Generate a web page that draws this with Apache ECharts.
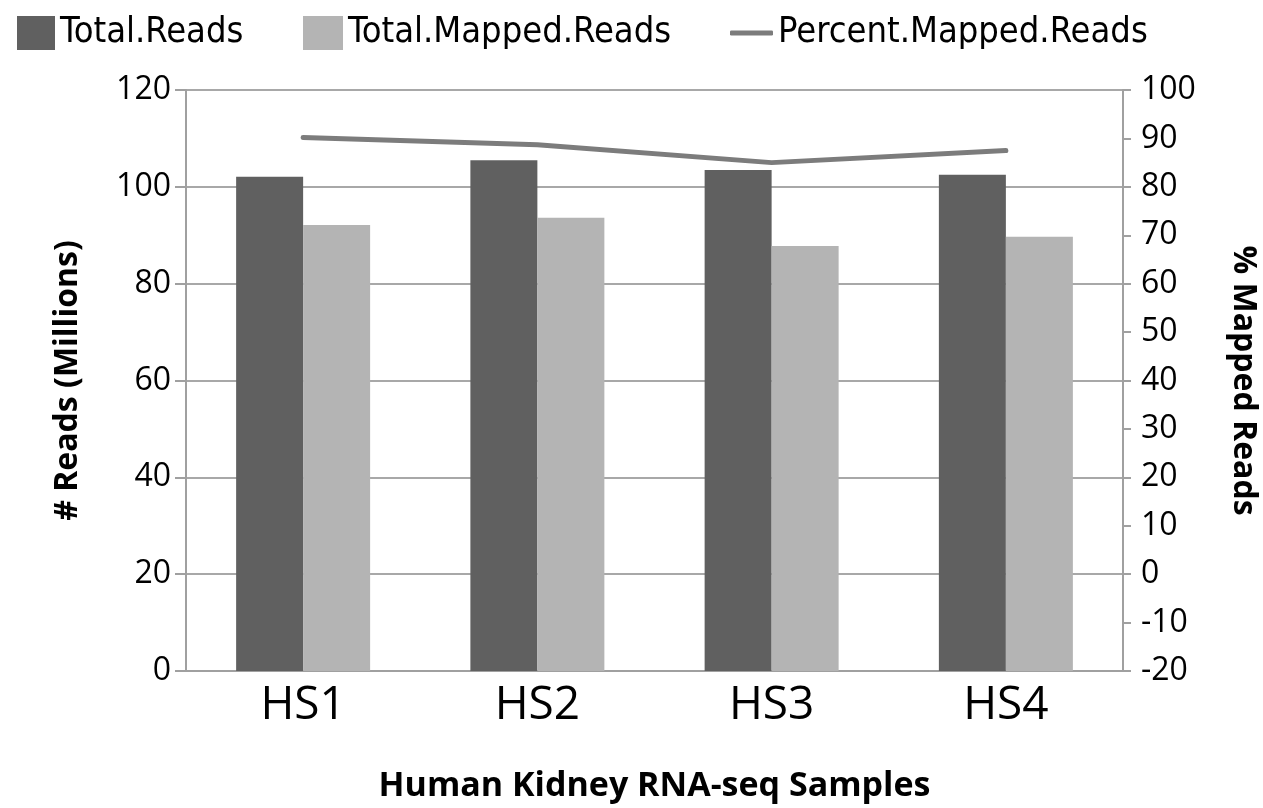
<!DOCTYPE html>
<html>
<head>
<meta charset="utf-8">
<script src="https://cdn.jsdelivr.net/npm/echarts@6/dist/echarts.min.js"></script>
<style>
  html, body { margin: 0; padding: 0; background: #fff; }
  #chart { width: 1263px; height: 808px; }
</style>
</head>
<body>
<div id="chart"></div>
<script>
// data
const samples = ['HS1', 'HS2', 'HS3', 'HS4']
const totalReads = [102.1, 105.5, 103.5, 102.5]
const totalMapped = [92.1, 93.6, 87.8, 89.7]
const percentMapped = [90.2, 88.7, 85.0, 87.5]

const font = "'Open Sans', sans-serif"
const narrow = "'Liberation Sans Narrow', 'DejaVu Sans Condensed', sans-serif"

const legendText = { color: '#000', fontSize: 36, fontFamily: narrow }

const myChart = echarts.init(document.getElementById('chart'))
const option = {
    animation: false,
    legend: [
        { left: 12, top: 10, itemWidth: 38, itemHeight: 34, textStyle: legendText,
          data: [{ name: 'Total.Reads', icon: 'rect' }] },
        { left: 298, top: 10, itemWidth: 40, itemHeight: 34, textStyle: legendText,
          data: [{ name: 'Total.Mapped.Reads', icon: 'rect' }] },
        { left: 725, top: 10, itemWidth: 43, itemHeight: 5, textStyle: legendText,
          itemStyle: { color: '#7c7c7c' },
          data: [{ name: 'Percent.Mapped.Reads', icon: 'roundRect' }] }
    ],
    grid: { left: 186, right: 140, top: 90, bottom: 137, outerBoundsMode: 'none' },
    xAxis: {
        type: 'category',
        data: samples,
        name: 'Human Kidney RNA-seq Samples',
        nameLocation: 'middle',
        nameGap: 98,
        nameTextStyle: { color: '#000', fontSize: 34, fontWeight: 'bold', fontFamily: font },
        axisLine: { lineStyle: { color: '#a0a0a0', width: 2 } },
        axisTick: { show: false },
        axisLabel: { color: '#000', fontSize: 46, fontFamily: font, margin: 12 }
    },
    yAxis: [
        {
            type: 'value',
            min: 0, max: 120, interval: 20,
            name: '# Reads (Millions)',
            nameLocation: 'middle',
            nameGap: 102,
            nameTextStyle: { color: '#000', fontSize: 32, fontWeight: 'bold', fontFamily: font },
            axisLine: { show: true, lineStyle: { color: '#a0a0a0', width: 2 } },
            axisTick: { show: true, length: 11, lineStyle: { color: '#a0a0a0', width: 2 } },
            splitLine: { lineStyle: { color: '#a8a8a8', width: 2 } },
            axisLabel: { color: '#000', fontSize: 32, fontFamily: font, margin: 15 }
        },
        {
            type: 'value',
            min: -20, max: 100, interval: 10,
            name: '% Mapped Reads',
            nameLocation: 'middle',
            nameRotate: -90,
            nameGap: 104,
            nameTextStyle: { color: '#000', fontSize: 32, fontWeight: 'bold', fontFamily: font },
            axisLine: { show: true, lineStyle: { color: '#a0a0a0', width: 2 } },
            axisTick: { show: true, length: 8, lineStyle: { color: '#a0a0a0', width: 2 } },
            splitLine: { show: false },
            axisLabel: { color: '#000', fontSize: 32, fontFamily: font, margin: 18 }
        }
    ],
    series: [
        {
            name: 'Total.Reads',
            type: 'bar',
            data: totalReads,
            barWidth: 67,
            barGap: 0,
            itemStyle: { color: '#606060' }
        },
        {
            name: 'Total.Mapped.Reads',
            type: 'bar',
            data: totalMapped,
            barWidth: 67,
            barGap: 0,
            itemStyle: { color: '#b4b4b4' }
        },
        {
            name: 'Percent.Mapped.Reads',
            type: 'line',
            yAxisIndex: 1,
            data: percentMapped,
            symbol: 'none',
            lineStyle: { color: '#7c7c7c', width: 5, cap: 'round' },
            itemStyle: { color: '#7c7c7c' }
        }
    ]
}
myChart.setOption(option)
</script>
</body>
</html>
